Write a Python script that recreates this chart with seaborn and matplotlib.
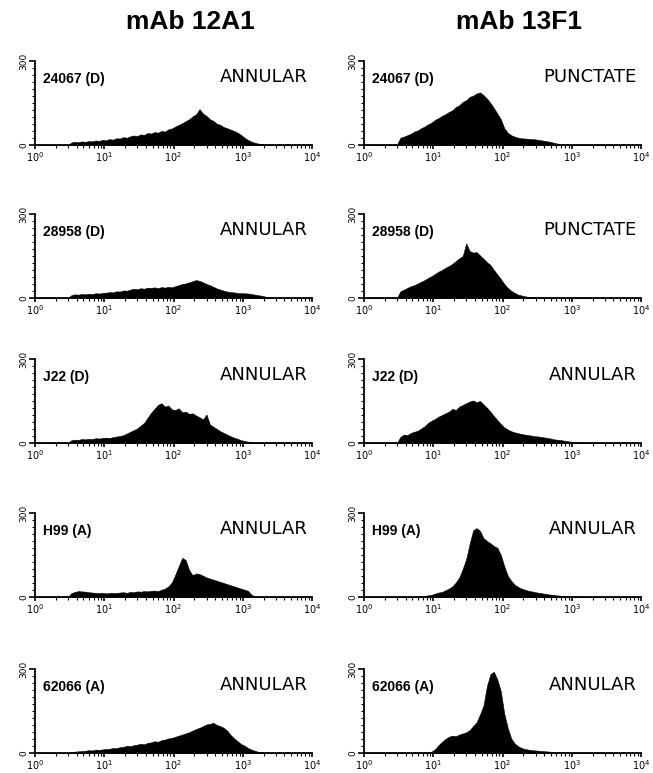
import numpy as np
import matplotlib
matplotlib.use("Agg")
import matplotlib.pyplot as plt
import seaborn as sns
from matplotlib.ticker import FixedLocator, MultipleLocator

sns.set_style("ticks")
plt.rcParams["font.family"] = ["DejaVu Sans"]
plt.rcParams["text.color"] = "black"
plt.rcParams["xtick.color"] = "black"
plt.rcParams["ytick.color"] = "black"

# ─── Data: event counts per 0.05-decade channel, 10^0 .. 10^4 ───────────────
LOG_START = np.arange(0.0, 4.0, 0.05)  # lower edge of each channel (log10)

col_titles = ["mAb 12A1", "mAb 13F1"]
strains = ["24067 (D)", "28958 (D)", "J22 (D)", "H99 (A)", "62066 (A)"]
patterns_12a1 = ["ANNULAR", "ANNULAR", "ANNULAR", "ANNULAR", "ANNULAR"]
patterns_13f1 = ["PUNCTATE", "PUNCTATE", "ANNULAR", "ANNULAR", "ANNULAR"]

counts_12a1_24067 = [0, 0, 0, 0, 0, 0, 0, 0, 0, 0, 9, 12, 10, 13, 11, 14, 13, 16, 15, 18,
                     17, 21, 19, 24, 23, 28, 26, 31, 34, 32, 38, 36, 43, 41, 46, 44, 50, 48, 56, 59,
                     66, 72, 78, 85, 92, 102, 110, 128, 112, 104, 92, 86, 76, 72, 64, 60, 55, 50, 44, 36,
                     26, 18, 12, 8, 5, 3, 1, 0, 0, 0, 0, 0, 0, 0, 0, 0, 0, 0, 0, 0]
counts_12a1_28958 = [0, 0, 0, 0, 0, 0, 0, 0, 0, 0, 10, 13, 12, 14, 13, 15, 14, 17, 16, 18,
                     19, 21, 20, 24, 23, 27, 26, 30, 33, 31, 35, 33, 37, 36, 38, 35, 39, 37, 40, 38,
                     42, 46, 50, 52, 56, 60, 64, 61, 56, 50, 46, 40, 34, 30, 26, 23, 21, 20, 18, 17,
                     17, 16, 14, 12, 10, 8, 5, 2, 0, 0, 0, 0, 0, 0, 0, 0, 0, 0, 0, 0]
counts_12a1_j22 = [0, 0, 0, 0, 0, 0, 0, 0, 0, 0, 10, 12, 11, 14, 13, 15, 14, 17, 16, 18,
                   19, 18, 21, 23, 25, 28, 34, 40, 46, 52, 62, 72, 90, 108, 122, 136, 142, 130, 134, 120,
                   118, 124, 110, 112, 104, 106, 98, 92, 84, 102, 66, 58, 50, 42, 36, 30, 24, 19, 15, 10,
                   7, 5, 3, 1, 0, 0, 0, 0, 0, 0, 0, 0, 0, 0, 0, 0, 0, 0, 0, 0]
counts_12a1_h99 = [0, 0, 0, 0, 0, 0, 0, 0, 0, 0, 14, 18, 21, 20, 19, 17, 16, 15, 14, 15,
                   13, 14, 15, 14, 16, 17, 15, 18, 17, 20, 19, 21, 20, 22, 23, 21, 26, 30, 38, 52,
                   80, 110, 140, 132, 96, 78, 84, 82, 76, 70, 66, 62, 58, 54, 50, 46, 42, 38, 34, 30,
                   26, 22, 8, 2, 0, 0, 0, 0, 0, 0, 0, 0, 0, 0, 0, 0, 0, 0, 0, 0]
counts_12a1_62066 = [0, 0, 0, 0, 0, 0, 0, 0, 0, 0, 3, 5, 6, 7, 8, 10, 9, 12, 11, 13,
                     14, 15, 18, 17, 21, 22, 26, 24, 28, 30, 33, 31, 36, 38, 42, 40, 46, 48, 52, 54,
                     58, 62, 66, 70, 74, 80, 86, 90, 96, 102, 104, 108, 100, 96, 90, 80, 64, 52, 42, 32,
                     26, 18, 12, 8, 4, 2, 1, 0, 0, 0, 0, 0, 0, 0, 0, 0, 0, 0, 0, 0]

counts_13f1_24067 = [0, 0, 0, 0, 1, 1, 1, 0, 1, 1, 26, 30, 35, 40, 48, 52, 60, 66, 74, 80,
                     90, 96, 104, 110, 118, 124, 136, 142, 154, 160, 172, 176, 184, 188, 178, 166, 150, 132, 112, 92,
                     60, 44, 35, 30, 26, 24, 23, 22, 21, 20, 18, 16, 14, 12, 9, 6, 3, 2, 1, 1,
                     1, 0, 0, 0, 0, 0, 0, 0, 0, 0, 0, 0, 0, 0, 0, 0, 0, 0, 0, 0]
counts_13f1_28958 = [0, 0, 0, 0, 0, 0, 0, 0, 0, 0, 24, 30, 36, 42, 46, 52, 58, 64, 72, 78,
                     86, 94, 100, 108, 114, 122, 132, 142, 150, 195, 168, 162, 164, 152, 140, 128, 118, 100, 84, 68,
                     50, 36, 26, 18, 12, 9, 6, 4, 3, 3, 2, 2, 1, 1, 1, 1, 1, 1, 0, 0,
                     0, 0, 0, 0, 0, 0, 0, 0, 0, 0, 0, 0, 0, 0, 0, 0, 0, 0, 0, 0]
counts_13f1_j22 = [0, 0, 0, 0, 0, 0, 0, 0, 0, 0, 22, 30, 28, 36, 40, 44, 52, 60, 72, 80,
                   86, 94, 100, 106, 112, 122, 118, 130, 136, 142, 148, 152, 146, 150, 138, 126, 112, 96, 82, 68,
                   56, 48, 42, 38, 35, 32, 30, 28, 26, 24, 23, 21, 19, 17, 14, 12, 11, 9, 7, 5,
                   4, 2, 1, 0, 0, 0, 0, 0, 0, 0, 0, 0, 0, 0, 0, 0, 0, 0, 0, 0]
counts_13f1_h99 = [0, 0, 0, 0, 0, 0, 0, 0, 0, 0, 0, 0, 1, 1, 2, 2, 3, 4, 6, 8,
                   12, 16, 18, 24, 30, 38, 52, 70, 100, 136, 190, 238, 246, 236, 210, 200, 192, 182, 176, 150,
                   110, 76, 58, 44, 36, 30, 26, 22, 20, 17, 15, 13, 11, 9, 8, 6, 5, 4, 3, 2,
                   2, 1, 1, 0, 0, 0, 0, 0, 0, 0, 0, 0, 0, 0, 0, 0, 0, 0, 0, 0]
counts_13f1_62066 = [0, 0, 0, 0, 0, 0, 0, 0, 0, 0, 0, 0, 0, 0, 1, 1, 2, 2, 3, 5,
                     14, 28, 40, 50, 58, 62, 60, 66, 70, 74, 82, 96, 110, 138, 170, 240, 282, 290, 262, 220,
                     140, 90, 52, 34, 24, 18, 14, 12, 10, 9, 8, 7, 6, 5, 4, 3, 3, 2, 2, 1,
                     1, 0, 0, 0, 0, 0, 0, 0, 0, 0, 0, 0, 0, 0, 0, 0, 0, 0, 0, 0]

columns = [
    [counts_12a1_24067, counts_12a1_28958, counts_12a1_j22, counts_12a1_h99, counts_12a1_62066],
    [counts_13f1_24067, counts_13f1_28958, counts_13f1_j22, counts_13f1_h99, counts_13f1_62066],
]
patterns = [patterns_12a1, patterns_13f1]

# ─── Layout (pixels) ─────────────────────────────────────────────────────────
W, H = 653, 773
COL_X = [35, 364]
COL_W = 277
ROW_BOTTOM = [145, 298, 443, 597, 753]
AX_H = 84

fig = plt.figure(figsize=(W / 100, H / 100), dpi=100)

for c in range(2):
    fig.text((COL_X[c] + COL_W * 0.56) / W, 1 - 22 / H, col_titles[c],
             ha="center", va="center", fontsize=19, fontweight="bold",
             family=["Liberation Sans", "DejaVu Sans"])
    for r in range(5):
        ax = fig.add_axes([COL_X[c] / W, 1 - ROW_BOTTOM[r] / H, COL_W / W, AX_H / H])
        centers = 10 ** (LOG_START + 0.025)
        sns.histplot(x=centers, weights=columns[c][r], binwidth=0.05, binrange=(0, 4),
                     log_scale=True, element="poly", fill=True, color="black",
                     alpha=1, linewidth=0.4, ax=ax)
        ax.set_xlim(1, 1e4)
        ax.set_ylim(0, 300)
        ax.set_xlabel("")
        ax.set_ylabel("")
        sns.despine(ax=ax)
        for s in ["left", "bottom"]:
            ax.spines[s].set_linewidth(1.3)
            ax.spines[s].set_color("black")

        ax.yaxis.set_major_locator(FixedLocator([0, 300]))
        ax.yaxis.set_minor_locator(MultipleLocator(25))
        ax.set_yticklabels(["0", "300"], rotation=90, va="center", fontsize=6.5)
        ax.tick_params(axis="y", which="major", length=4, width=1.2, pad=1)
        ax.tick_params(axis="y", which="minor", length=2, width=0.8)
        ax.tick_params(axis="x", which="major", length=3, width=1.2, pad=0.5, labelsize=7)
        ax.tick_params(axis="x", which="minor", length=2, width=0.8)

        ax.text(0.03, 0.79, strains[r], transform=ax.transAxes, ha="left", va="center",
                fontsize=10, fontweight="bold", family=["Liberation Sans", "DejaVu Sans"])
        ax.text(0.985, 0.81, patterns[c][r], transform=ax.transAxes, ha="right",
                va="center", fontsize=13)

fig.savefig("out.png", dpi=100)
